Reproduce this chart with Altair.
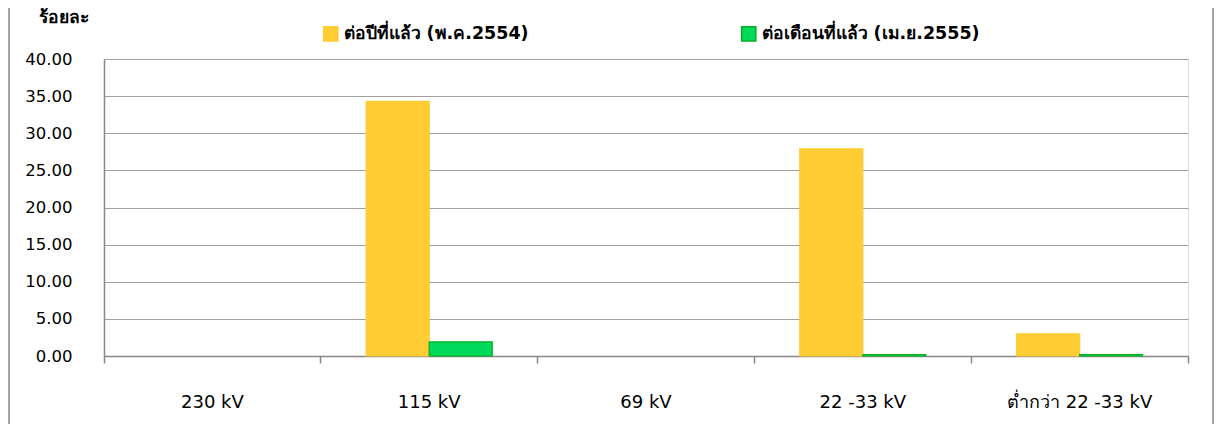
import altair as alt
import pandas as pd

categories = ["230 kV", "115 kV", "69 kV", "22 -33 kV", "ต่ำกว่า 22 -33 kV"]
series_names = ["ต่อปีที่แล้ว (พ.ค.2554)", "ต่อเดือนที่แล้ว (เม.ย.2555)"]
yoy_values = [0.0, 34.3, 0.0, 27.9, 3.0]
mom_values = [0.0, 1.9, 0.0, 0.2, 0.2]
y_title = "ร้อยละ"

rows = []
for c, v1, v2 in zip(categories, yoy_values, mom_values):
    rows.append({"cat": c, "series": series_names[0], "value": v1})
    rows.append({"cat": c, "series": series_names[1], "value": v2})
df = pd.DataFrame(rows)

FONT = "Tahoma, DejaVu Sans, Noto Sans, sans-serif"
W, H = 1084, 297

color_scale = alt.Scale(domain=series_names, range=["#FFCC33", "#00D95A"])
stroke_scale = alt.Scale(domain=series_names, range=["#FFCC33", "#00B020"])

bars = alt.Chart(df).transform_filter("datum.value > 0").mark_bar(strokeWidth=1.2).encode(
    x=alt.X("cat:N", sort=categories, title=None,
            scale=alt.Scale(paddingInner=0, paddingOuter=0, domain=categories),
            axis=alt.Axis(bandPosition=1, tickExtra=True,
                          ticks=True, tickSize=7, tickColor="#888888", tickWidth=1.5,
                          domainColor="#888888", domainWidth=1.5, labelAngle=0,
                          labelFont=FONT, labelFontSize=18, labelColor="#000000",
                          labelPadding=30, grid=False)),
    xOffset=alt.XOffset("series:N", sort=series_names,
                        scale=alt.Scale(paddingOuter=0.72, paddingInner=0,
                                        domain=series_names)),
    y=alt.Y("value:Q", scale=alt.Scale(domain=[0, 40]),
            axis=alt.Axis(values=[0, 5, 10, 15, 20, 25, 30, 35, 40], format=".2f",
                          title=y_title, titleAngle=0, titleX=-66, titleY=-33,
                          titleAlign="left", titleFont=FONT, titleFontSize=17.5,
                          titleFontWeight="bold", titleColor="#000000",
                          labelFont=FONT, labelFontSize=16.5, labelColor="#000000",
                          labelPadding=32, ticks=False, domainColor="#888888",
                          domainWidth=1.5, grid=True, gridColor="#A0A0A0",
                          gridWidth=1.2)),
    color=alt.Color("series:N", scale=color_scale, sort=series_names,
                    legend=alt.Legend(title=None, orient="none", direction="horizontal",
                                      legendX=218, legendY=-34, symbolType="square",
                                      symbolSize=200, symbolStrokeWidth=1.5,
                                      labelFont=FONT, labelFontSize=17.5,
                                      labelFontWeight="bold", labelColor="#000000",
                                      columnPadding=209, labelLimit=400)),
    stroke=alt.Stroke("series:N", scale=stroke_scale, sort=series_names),
)

frame = alt.Chart(pd.DataFrame({"k": [0]})).mark_rect(
    fill=None, stroke="#888888", strokeWidth=1.5
).encode(
    x=alt.value(-95), x2=alt.value(1109), y=alt.value(-80), y2=alt.value(400)
)

chart = alt.layer(frame, bars).properties(
    width=W, height=H,
    autosize=alt.AutoSizeParams(type="none"),
    padding={"left": 96, "top": 51, "right": 28, "bottom": 68},
).configure_view(stroke=None).configure(background="white")

chart.save("out.html", embed_options={"renderer": "svg", "actions": False})
